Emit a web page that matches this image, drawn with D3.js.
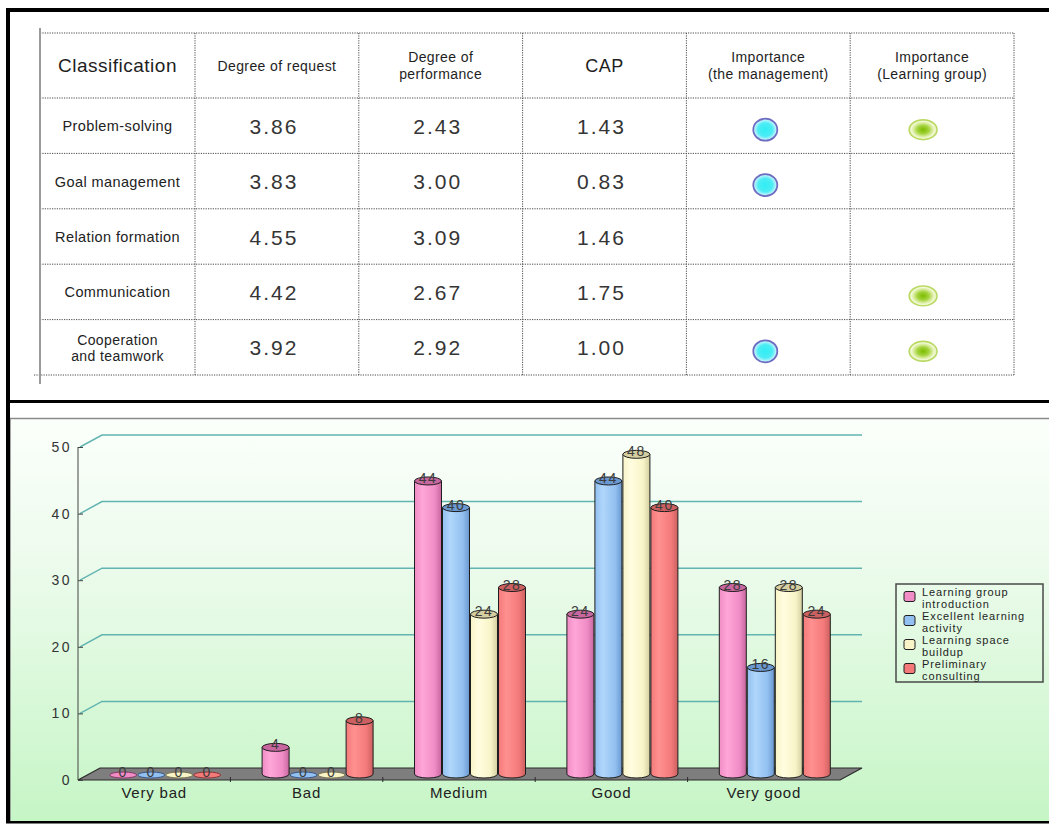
<!DOCTYPE html>
<html>
<head>
<meta charset="utf-8">
<script src="https://cdn.jsdelivr.net/npm/d3@7"></script>
<style>
  html, body { margin: 0; padding: 0; background: #fff; }
  svg { display: block; font-family: "Liberation Sans", Arial, sans-serif; }
</style>
</head>
<body>
<div id="chart"></div>
<script>
// ---- table data ----
const headers = ['Classification', 'Degree of request', 'Degree of\nperformance', 'CAP', 'Importance\n(the management)', 'Importance\n(Learning group)'];
const skills = ['Problem-solving', 'Goal management', 'Relation formation', 'Communication', 'Cooperation\nand teamwork'];
const requestDegree = [3.86, 3.83, 4.55, 4.42, 3.92];
const performanceDegree = [2.43, 3.00, 3.09, 2.67, 2.92];
const capValues = [1.43, 0.83, 1.46, 1.75, 1.00];
const importanceManagement = [true, true, false, false, true];
const importanceGroup = [true, false, false, true, true];

// ---- chart data ----
const ratings = ['Very bad', 'Bad', 'Medium', 'Good', 'Very good'];
const seriesNames = ['Learning group\nintroduction', 'Excellent learning\nactivity', 'Learning space\nbuildup', 'Preliminary\nconsulting'];
const groupIntroduction = [0, 4, 44, 24, 28];
const excellentActivity = [0, 0, 40, 44, 16];
const spaceBuildup = [0, 0, 24, 48, 28];
const preliminaryConsulting = [0, 8, 28, 40, 24];
const yTicks = [0, 10, 20, 30, 40, 50];

(function () {
  const width = 1049;
  const height = 833;

  const series = [groupIntroduction, excellentActivity, spaceBuildup, preliminaryConsulting];
  const palette = [
    { light: '#ffa6d8', mid: '#f08cc6', dark: '#c8679f', line: '#8a3a6a' },
    { light: '#b0d6fb', mid: '#92c0f0', dark: '#6a98d0', line: '#3a5a8a' },
    { light: '#fffde0', mid: '#f8f4c8', dark: '#d4cea0', line: '#7a7650' },
    { light: '#ff9090', mid: '#f47a7a', dark: '#cc6060', line: '#8a3838' }
  ];

  const svg = d3.select('#chart')
    .append('svg')
    .attr('width', width)
    .attr('height', height)
    .attr('viewBox', `0 0 ${width} ${height}`);

  const defs = svg.append('defs');

  // ---------- frame ----------
  const bg = defs.append('linearGradient').attr('id', 'bg').attr('x1', 0).attr('y1', 0).attr('x2', 0).attr('y2', 1);
  bg.append('stop').attr('offset', '0%').attr('stop-color', '#fbfffb');
  bg.append('stop').attr('offset', '35%').attr('stop-color', '#edfbed');
  bg.append('stop').attr('offset', '100%').attr('stop-color', '#c6f5c6');

  svg.append('rect').attr('x', 10).attr('y', 418).attr('width', width - 10).attr('height', 403).attr('fill', 'url(#bg)');
  svg.append('path').attr('d', `M10,821 V418.5 H${width}`).attr('fill', 'none').attr('stroke', '#8a8a8a').attr('stroke-width', 1.5);

  svg.append('rect').attr('x', 6).attr('y', 8).attr('width', width - 6).attr('height', 4).attr('fill', '#000');
  svg.append('rect').attr('x', 6).attr('y', 8).attr('width', 4).attr('height', 815).attr('fill', '#000');
  svg.append('rect').attr('x', 6).attr('y', 400).attr('width', width - 6).attr('height', 3).attr('fill', '#000');
  svg.append('rect').attr('x', 6).attr('y', 821).attr('width', width - 6).attr('height', 2.5).attr('fill', '#000');

  // ---------- table ----------
  const table = svg.append('g');
  const firstCol = { x0: 40, x1: 195 };
  const headRow = { y0: 33, y1: 98 };
  const colKeys = ['request', 'performance', 'cap', 'mgmt', 'group'];
  const col = d3.scaleBand().domain(colKeys).range([firstCol.x1, 1014]);
  const row = d3.scaleBand().domain(skills).range([headRow.y1, 375]);
  const dotted = { stroke: '#4a4a4a', 'stroke-width': 1, 'stroke-dasharray': '1.2,1.2' };

  const hLines = [headRow.y0, headRow.y1].concat(skills.map((s) => row(s) + row.bandwidth()));
  hLines.forEach((y, i) => {
    table.append('line')
      .attr('x1', i === hLines.length - 1 ? 34 : firstCol.x0).attr('x2', 1014)
      .attr('y1', y).attr('y2', y)
      .attr('stroke', dotted.stroke).attr('stroke-width', dotted['stroke-width']).attr('stroke-dasharray', dotted['stroke-dasharray']);
  });
  colKeys.concat(['end']).forEach((k) => {
    const x = k === 'end' ? 1014 : col(k);
    table.append('line')
      .attr('x1', x).attr('x2', x).attr('y1', headRow.y0).attr('y2', 375)
      .attr('stroke', dotted.stroke).attr('stroke-width', dotted['stroke-width']).attr('stroke-dasharray', dotted['stroke-dasharray']);
  });
  table.append('line').attr('x1', firstCol.x0).attr('x2', firstCol.x0).attr('y1', 28).attr('y2', 384)
    .attr('stroke', '#9a9a9a').attr('stroke-width', 2);

  const headSizes = [19, 14, 14, 18, 14, 14];
  const headCenters = [(firstCol.x0 + firstCol.x1) / 2].concat(colKeys.map((k) => col(k) + col.bandwidth() / 2));
  const headMid = (headRow.y0 + headRow.y1) / 2;

  headers.forEach((h, i) => {
    const lines = h.split('\n');
    const size = headSizes[i];
    const lh = 17;
    const t = table.append('text')
      .attr('text-anchor', 'middle')
      .attr('font-size', size)
      .attr('letter-spacing', size > 16 ? 0.5 : 0.4)
      .attr('fill', '#1e1e1e');
    lines.forEach((ln, j) => {
      t.append('tspan')
        .attr('x', headCenters[i])
        .attr('y', headMid + size * 0.36 + (j - (lines.length - 1) / 2) * lh)
        .text(ln);
    });
  });

  skills.forEach((s, r) => {
    const cy = row(s) + row.bandwidth() / 2;
    const lines = s.split('\n');
    const multi = lines.length > 1;
    const t = table.append('text')
      .attr('text-anchor', 'middle')
      .attr('font-size', multi ? 14 : 14.5)
      .attr('letter-spacing', 0.4)
      .attr('fill', '#222');
    lines.forEach((ln, j) => {
      t.append('tspan')
        .attr('x', (firstCol.x0 + firstCol.x1) / 2)
        .attr('y', cy + 5.5 + (j - (lines.length - 1) / 2) * 16)
        .text(ln);
    });

    [['request', requestDegree], ['performance', performanceDegree], ['cap', capValues]].forEach(([k, arr]) => {
      table.append('text')
        .attr('x', col(k) + col.bandwidth() / 2 - 3)
        .attr('y', cy + 8)
        .attr('text-anchor', 'middle')
        .attr('font-size', 21)
        .attr('letter-spacing', 2)
        .attr('fill', '#353535')
        .text(arr[r].toFixed(2));
    });
  });

  const blueGrad = defs.append('radialGradient').attr('id', 'blueDot');
  blueGrad.append('stop').attr('offset', '0%').attr('stop-color', '#30eef4');
  blueGrad.append('stop').attr('offset', '60%').attr('stop-color', '#4cecf4');
  blueGrad.append('stop').attr('offset', '85%').attr('stop-color', '#aaf2fc');
  blueGrad.append('stop').attr('offset', '100%').attr('stop-color', '#d6f8ff');

  const greenGrad = defs.append('radialGradient').attr('id', 'greenDot');
  greenGrad.append('stop').attr('offset', '0%').attr('stop-color', '#7cbc00');
  greenGrad.append('stop').attr('offset', '40%').attr('stop-color', '#a2d23a');
  greenGrad.append('stop').attr('offset', '68%').attr('stop-color', '#d8ec9c');
  greenGrad.append('stop').attr('offset', '85%').attr('stop-color', '#f2f9d8');
  greenGrad.append('stop').attr('offset', '100%').attr('stop-color', '#cde484');

  skills.forEach((s, r) => {
    const cy = row(s) + row.bandwidth() / 2 + 4;
    if (importanceManagement[r]) {
      table.append('ellipse')
        .attr('cx', col('mgmt') + col.bandwidth() / 2 - 3).attr('cy', cy)
        .attr('rx', 12).attr('ry', 11)
        .attr('fill', 'url(#blueDot)').attr('stroke', '#6e6cc0').attr('stroke-width', 1.8);
    }
    if (importanceGroup[r]) {
      table.append('ellipse')
        .attr('cx', col('group') + col.bandwidth() / 2 - 9).attr('cy', cy)
        .attr('rx', 14).attr('ry', 10)
        .attr('fill', 'url(#greenDot)').attr('stroke', '#b8d860').attr('stroke-width', 1.4);
    }
  });

  // ---------- 3D bar chart ----------
  const chart = svg.append('g');
  const depth = { dx: 22, dy: -12 };

  const x = d3.scaleBand().domain(ratings).range([78, 840]);
  const y = d3.scaleLinear().domain([0, 50]).range([780, 447]);
  const inner = d3.scaleBand().domain(d3.range(series.length)).range([-56, 56]);

  // grid lines (with wall diagonal)
  yTicks.filter((t) => t > 0).forEach((t) => {
    chart.append('path')
      .attr('d', `M${x.range()[0] + 2},${y(t)} l${depth.dx},${depth.dy} H${x.range()[1] + depth.dx}`)
      .attr('fill', 'none')
      .attr('stroke', '#62b4b0')
      .attr('stroke-width', 1.5);
  });

  // floor
  const [fx0, fx1] = x.range();
  chart.append('path')
    .attr('d', `M${fx0},${y(0)} H${fx1} l${depth.dx},${depth.dy} H${fx0 + depth.dx} Z`)
    .attr('fill', '#7e7e7e')
    .attr('stroke', '#2a2a2a')
    .attr('stroke-width', 1.2);
  ratings.slice(1).forEach((r) => {
    chart.append('line')
      .attr('x1', x(r)).attr('x2', x(r))
      .attr('y1', y(0) - 3).attr('y2', y(0) + 2)
      .attr('stroke', '#2a2a2a');
  });

  // y axis
  chart.append('g')
    .attr('transform', `translate(${fx0},0)`)
    .call(d3.axisLeft(y).tickValues(yTicks).tickSize(-5).tickPadding(6).tickFormat(d3.format('d')))
    .call((g) => g.select('.domain').attr('stroke', '#444').attr('d', `M0,${y(50)}V${y(0)}`))
    .call((g) => g.selectAll('.tick line').attr('stroke', '#444'))
    .call((g) => g.selectAll('.tick text')
      .attr('font-size', 14)
      .attr('letter-spacing', 2.5)
      .attr('fill', '#333')
      .attr('font-family', '"Liberation Sans", Arial, sans-serif'));

  // x labels
  ratings.forEach((r) => {
    chart.append('text')
      .attr('x', x(r) + x.bandwidth() / 2)
      .attr('y', y(0) + 18)
      .attr('text-anchor', 'middle')
      .attr('font-size', 15)
      .attr('letter-spacing', 0.8)
      .attr('fill', '#222')
      .text(r);
  });

  // gradients for the cylinders
  palette.forEach((c, i) => {
    const g = defs.append('linearGradient').attr('id', `cyl${i}`).attr('x1', 0).attr('x2', 1).attr('y1', 0).attr('y2', 0);
    g.append('stop').attr('offset', '0%').attr('stop-color', c.mid);
    g.append('stop').attr('offset', '30%').attr('stop-color', c.light);
    g.append('stop').attr('offset', '75%').attr('stop-color', c.mid);
    g.append('stop').attr('offset', '100%').attr('stop-color', c.dark);
  });

  const rx = inner.bandwidth() / 2 - 0.5;
  const ry = 4;
  const base = y(0) + depth.dy / 2;
  const labels = [];

  ratings.forEach((r, ri) => {
    const cx0 = x(r) + x.bandwidth() / 2 + depth.dx / 2;
    series.forEach((vals, si) => {
      const v = vals[ri];
      const cx = cx0 + inner(si) + inner.bandwidth() / 2;
      const top = y(v) + depth.dy / 2;
      const c = palette[si];
      if (v > 0) {
        chart.append('path')
          .attr('d', `M${cx - rx},${top} V${base} A${rx},${ry} 0 0 0 ${cx + rx},${base} V${top} Z`)
          .attr('fill', `url(#cyl${si})`)
          .attr('stroke', '#1e1e1e')
          .attr('stroke-width', 1);
        chart.append('ellipse')
          .attr('cx', cx).attr('cy', top).attr('rx', rx).attr('ry', ry)
          .attr('fill', c.dark)
          .attr('stroke', '#1e1e1e')
          .attr('stroke-width', 1);
      } else {
        chart.append('ellipse')
          .attr('cx', cx).attr('cy', base + 1).attr('rx', rx).attr('ry', ry - 1)
          .attr('fill', c.mid)
          .attr('stroke', c.line)
          .attr('stroke-width', 1);
      }
      labels.push({ cx, y: (v > 0 ? top : base + 1) + 2, v });
    });
  });

  labels.forEach((d) => {
    chart.append('text')
      .attr('x', d.cx)
      .attr('y', d.y)
      .attr('text-anchor', 'middle')
      .attr('font-size', 14)
      .attr('letter-spacing', 1.5)
      .attr('fill', '#3c3c3c')
      .text(d.v);
  });

  // legend
  const legend = svg.append('g');
  legend.append('rect')
    .attr('x', 896).attr('y', 584).attr('width', 147).attr('height', 98)
    .attr('fill', 'none').attr('stroke', '#4a4a4a').attr('stroke-width', 1.5);
  seriesNames.forEach((name, i) => {
    const cy = 596.5 + i * 24;
    legend.append('rect')
      .attr('x', 904).attr('y', cy - 5).attr('width', 11).attr('height', 10).attr('rx', 2)
      .attr('fill', palette[i].mid).attr('stroke', '#1e1e1e').attr('stroke-width', 1);
    const t = legend.append('text').attr('font-size', 11).attr('letter-spacing', 0.9).attr('fill', '#1e1e1e');
    name.split('\n').forEach((ln, j) => {
      t.append('tspan').attr('x', 922).attr('y', cy - 1 + j * 12).text(ln);
    });
  });
})();
</script>
</body>
</html>
